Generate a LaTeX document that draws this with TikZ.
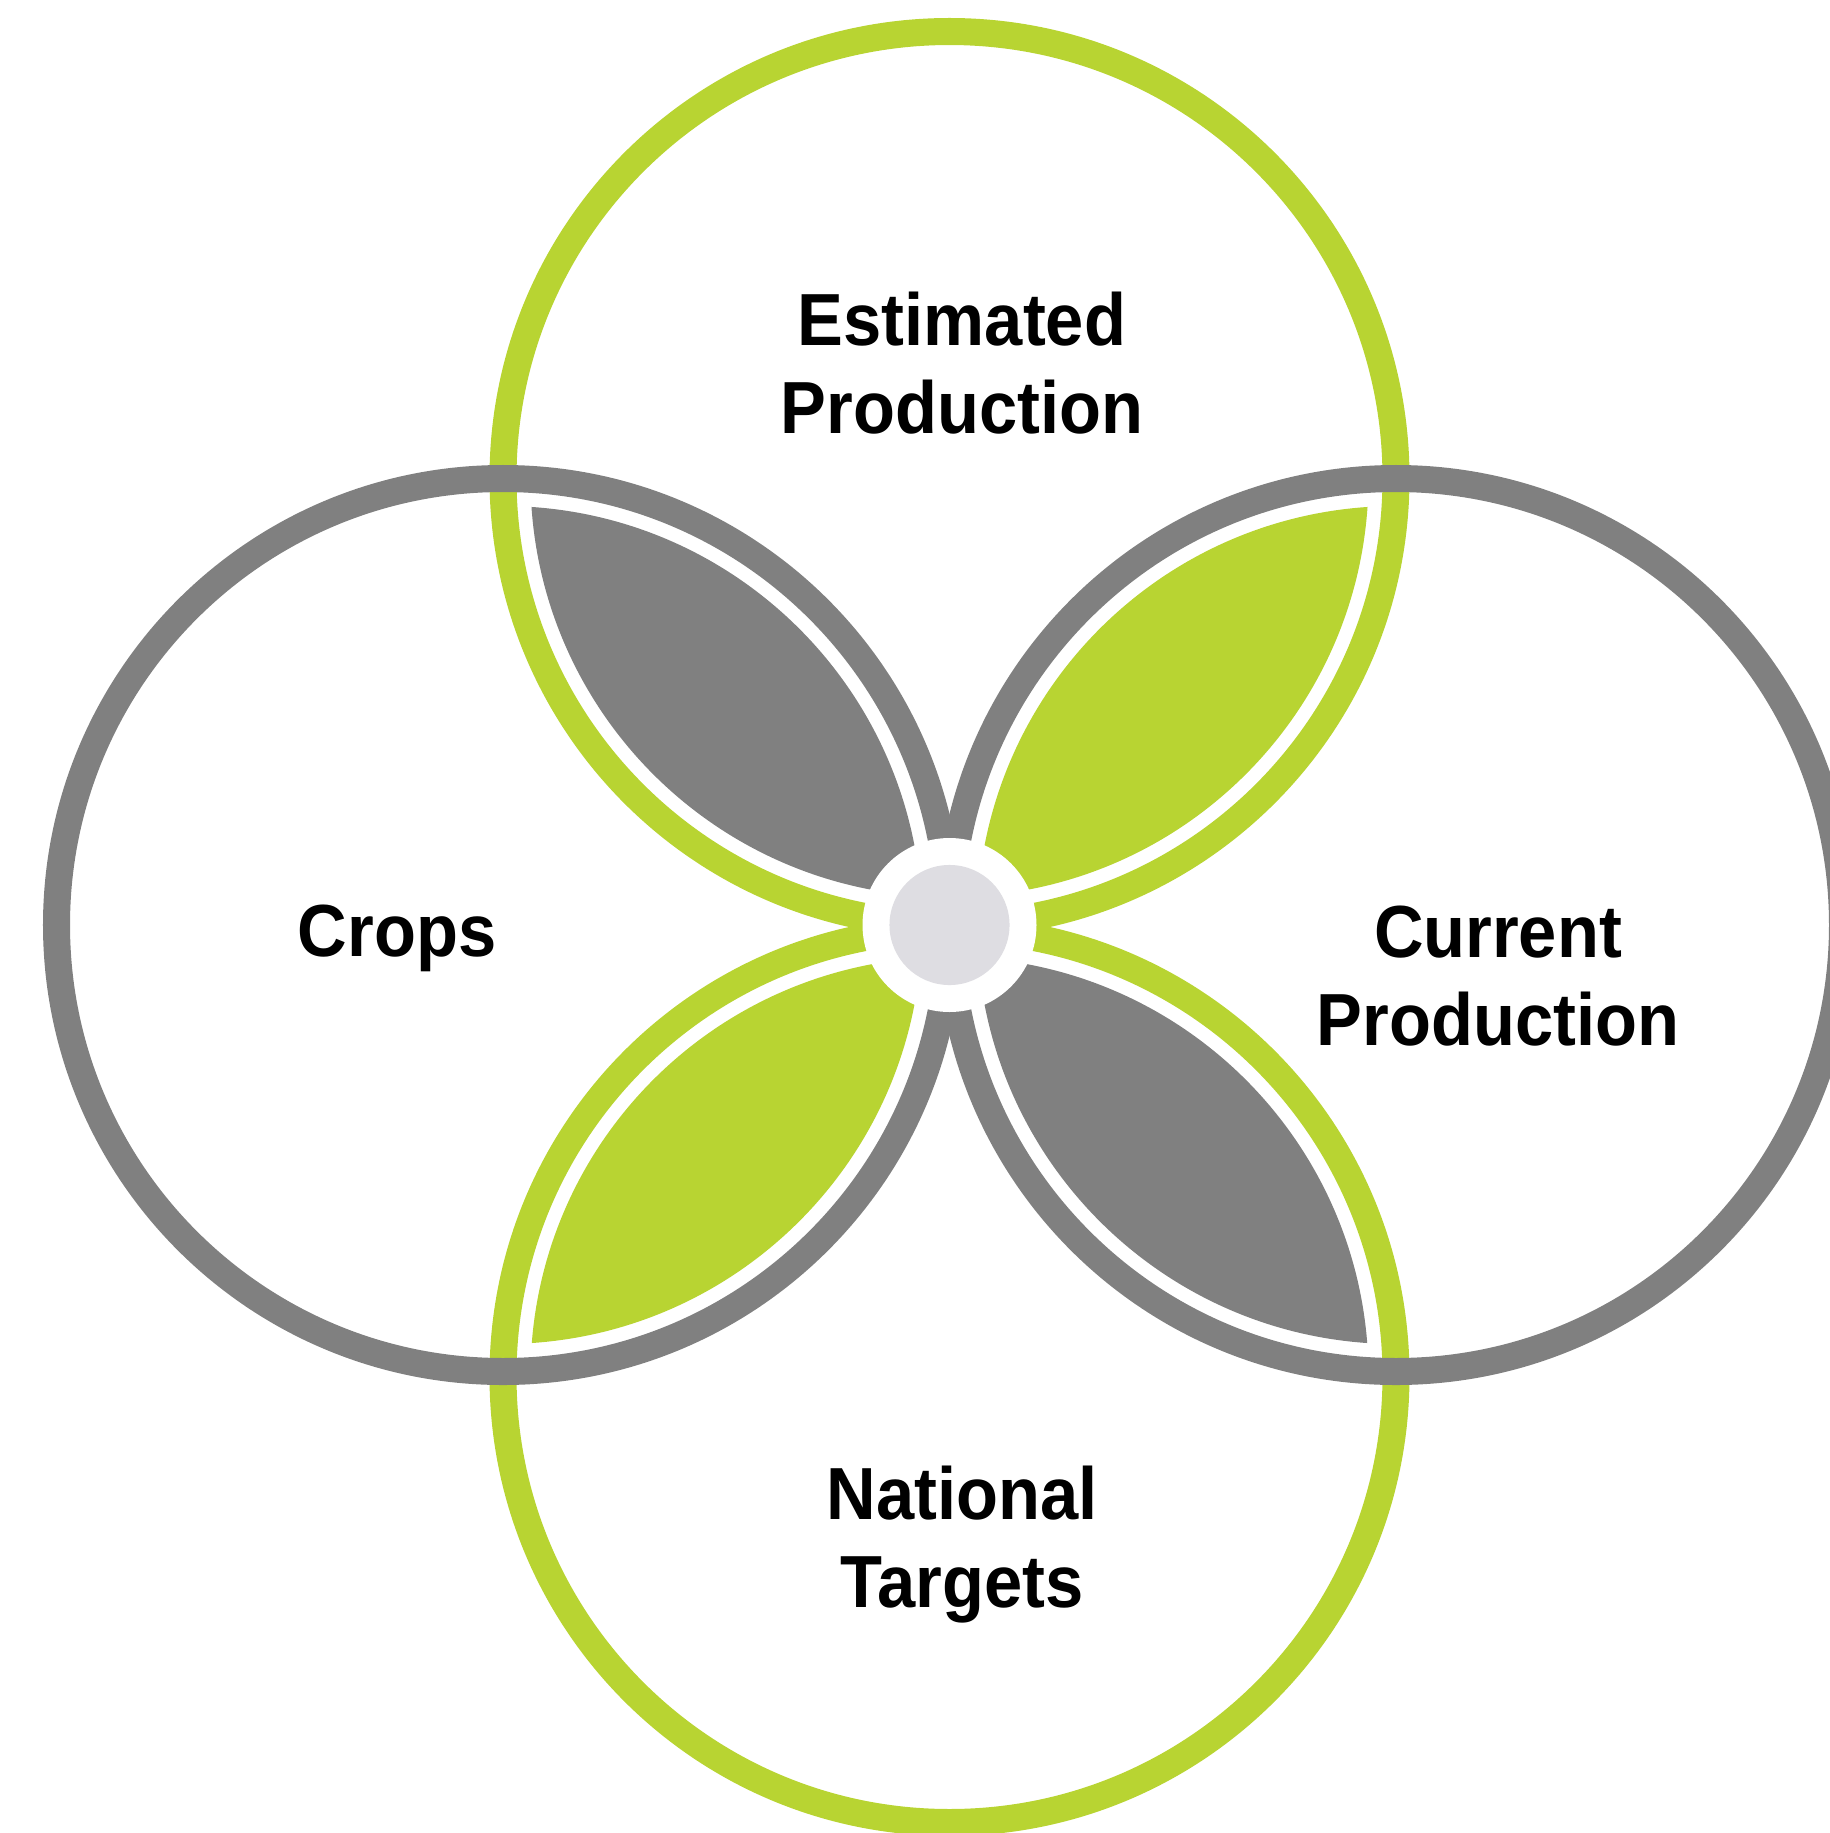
\documentclass[tikz,border=0pt]{standalone}
\usepackage{fontspec}
\setmainfont{Liberation Sans}[FakeStretch=0.93]
\usepackage{tikz}
\usetikzlibrary{positioning}
\definecolor{leafgreen}{HTML}{B8D432}
\definecolor{ringgray}{HTML}{808080}
\definecolor{hubgray}{HTML}{DEDDE2}

\begin{document}
\begin{tikzpicture}[
    x=0.01cm, y=-0.01cm,
    ring/.style={line width=0.27cm},
    lbl/.style={font=\fontsize{21}{25}\selectfont\bfseries, align=center, anchor=base, inner sep=0pt},
]
\useasboundingbox (0,0) rectangle (1830,1833);

% Circle centres
\coordinate (hub) at (949.5,925);
\coordinate (ctop) at (949.5,478);
\coordinate (cbot) at (949.5,1376);
\coordinate (cleft) at (503,925);
\coordinate (cright) at (1396,925);

% Green rings
\draw[ring, leafgreen] (ctop) circle[radius=446.5];
\draw[ring, leafgreen] (cbot) circle[radius=446.5];

% Gray rings
\draw[ring, ringgray] (cleft) circle[radius=446.5];
\draw[ring, ringgray] (cright) circle[radius=446.5];

% Petals
\begin{scope}
  \clip (cleft) circle[radius=419];
  \fill[ringgray] (ctop) circle[radius=419];
\end{scope}
\begin{scope}
  \clip (cright) circle[radius=419];
  \fill[leafgreen] (ctop) circle[radius=419];
\end{scope}
\begin{scope}
  \clip (cleft) circle[radius=419];
  \fill[leafgreen] (cbot) circle[radius=419];
\end{scope}
\begin{scope}
  \clip (cright) circle[radius=419];
  \fill[ringgray] (cbot) circle[radius=419];
\end{scope}

% Hub
\fill[white] (hub) circle[radius=87];
\node[circle, fill=hubgray, minimum size=1.2cm, inner sep=0pt] (center) at (hub) {};

% Labels (base = last line)
\node[lbl] (est) at (962,433) {Estimated\\Production};
\node[lbl] (crops) at (397,956.5) {Crops};
\node[lbl] (cur) at (1498,1045) {Current\\Production};
\node[lbl] (nat) at (962,1607) {National\\Targets};

\end{tikzpicture}
\end{document}
